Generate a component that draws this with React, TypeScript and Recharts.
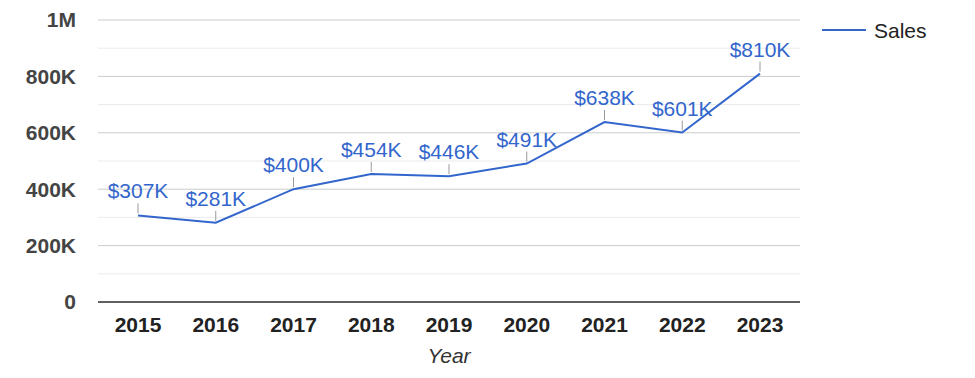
import { LineChart, Line, XAxis, YAxis, CartesianGrid, ReferenceLine, LabelList } from 'recharts';

const years = ['2015', '2016', '2017', '2018', '2019', '2020', '2021', '2022', '2023'];
const sales = [307000, 281000, 400000, 454000, 446000, 491000, 638000, 601000, 810000];
const majorTicks = [0, 200000, 400000, 600000, 800000, 1000000];
const minorTicks = [100000, 300000, 500000, 700000, 900000];

const FONT = '"Liberation Sans", Arial, sans-serif';
const BLUE = '#3366cc';

const data = years.map((year, i) => ({ year, sales: sales[i] }));

const fmtAxis = (v: number) => (v === 0 ? '0' : v >= 1000000 ? `${v / 1000000}M` : `${v / 1000}K`);
const fmtLabel = (v: number) => `$${Math.round(v / 1000)}K`;

function Annotation(props: any) {
  const { x, y, value } = props;
  return (
    <g>
      <line x1={x} y1={y - 2} x2={x} y2={y - 12} stroke="#999" strokeWidth={1} />
      <text x={x} y={y - 17} textAnchor="middle" fontSize={21} fontFamily={FONT} fill={BLUE}>
        {fmtLabel(value)}
      </text>
    </g>
  );
}

function YearLabel(props: any) {
  const { viewBox } = props;
  return (
    <text
      x={viewBox.x + viewBox.width / 2}
      y={viewBox.y + 61}
      textAnchor="middle"
      fontSize={21}
      fontStyle="italic"
      fontFamily={FONT}
      fill="#333"
    >
      Year
    </text>
  );
}

export default function App() {
  return (
    <div style={{ position: 'absolute', left: 0, top: 0, width: 975, height: 378, background: '#fff' }}>
      <LineChart width={975} height={378} data={data} margin={{ top: 20, right: 175, bottom: 0, left: 0 }}>
        <CartesianGrid vertical={false} stroke="#cccccc" />
        {minorTicks.map((t) => (
          <ReferenceLine key={t} y={t} stroke="#ebebeb" />
        ))}
        <XAxis
          dataKey="year"
          height={76}
          padding={{ left: 40, right: 40 }}
          tickLine={false}
          tickSize={0}
          tickMargin={15}
          axisLine={{ stroke: '#333', strokeWidth: 1.5 }}
          tick={{ fontSize: 21, fontWeight: 'bold', fontFamily: FONT, fill: '#222' }}
          label={<YearLabel />}
        />
        <YAxis
          width={98}
          domain={[0, 1000000]}
          ticks={majorTicks}
          tickFormatter={fmtAxis}
          axisLine={false}
          tickLine={false}
          tickSize={0}
          tickMargin={22}
          tick={{ fontSize: 21, fontWeight: 'bold', fontFamily: FONT, fill: '#444' }}
        />
        <Line
          type="linear"
          dataKey="sales"
          name="Sales"
          stroke={BLUE}
          strokeWidth={2}
          dot={false}
          activeDot={false}
          isAnimationActive={false}
        >
          <LabelList dataKey="sales" content={<Annotation />} />
        </Line>
      </LineChart>
      <svg width={150} height={30} style={{ position: 'absolute', left: 822, top: 17 }}>
        <line x1={0} y1={13} x2={44} y2={13} stroke={BLUE} strokeWidth={2} />
        <text x={52} y={20.5} fontSize={21} fontFamily={FONT} fill="#222">
          Sales
        </text>
      </svg>
    </div>
  );
}
